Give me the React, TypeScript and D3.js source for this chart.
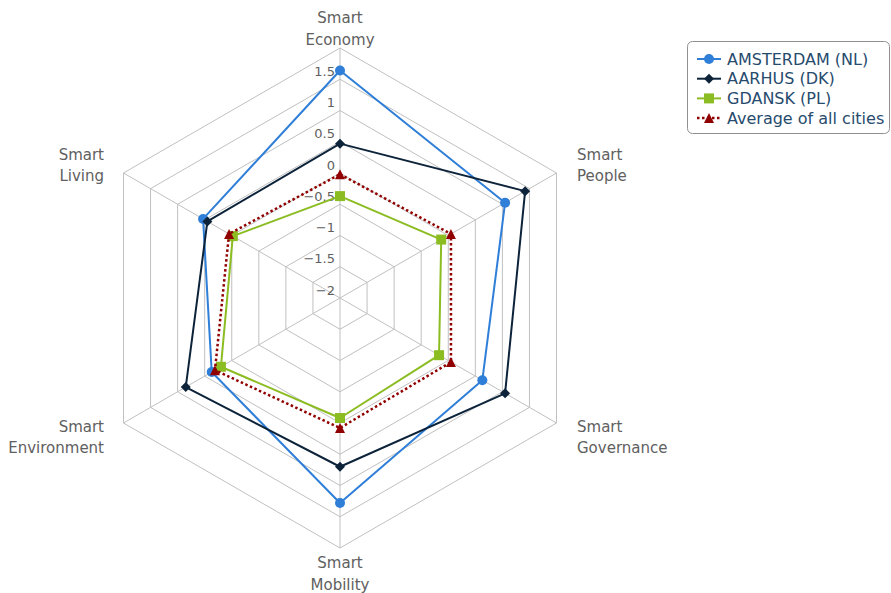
import React from "react";
import * as d3 from "d3";

const categories = ["Economy", "People", "Governance", "Mobility", "Environment", "Living"];
const seriesNames = ["AMSTERDAM (NL)", "AARHUS (DK)", "GDANSK (PL)", "Average of all cities"];
const amsterdam = [1.64, 1.05, 0.63, 1.28, 0.37, 0.53];
const aarhus = [0.47, 1.42, 1.05, 0.7, 0.85, 0.45];
const gdansk = [-0.37, -0.13, -0.17, -0.08, 0.2, -0.02];
const average = [-0.02, 0.05, 0.05, 0.08, 0.31, 0.05];
const tickValues = [-2, -1.5, -1, -0.5, 0, 0.5, 1, 1.5, 2];
const labelTicks = [-2, -1.5, -1, -0.5, 0, 0.5, 1, 1.5];

const colors = ["#2f7ed8", "#0d233a", "#8bbc21", "#910000"];
const markers = ["circle", "diamond", "square", "triangle"];

const W = 891;
const H = 593;
const cx = 340;
const cy = 298;
const R = 250;
const FONT = "'DejaVu Sans', Verdana, sans-serif";

function markerPath(kind: string): string {
  if (kind === "circle") return d3.symbol(d3.symbolCircle, Math.PI * 25)() as string;
  if (kind === "diamond") return "M0,-5L5,0L0,5L-5,0Z";
  if (kind === "square") return "M-5,-5L5,-5L5,5L-5,5Z";
  return "M0,-5L5,5L-5,5Z";
}

function fmt(v: number): string {
  const s = String(v);
  return s.replace("-", "\u2212");
}

export default function App() {
  const r = d3.scaleLinear().domain([-2, 2]).range([0, R]);
  const angle = (i: number) => (i * Math.PI * 2) / categories.length;
  const ring = d3
    .lineRadial<number>()
    .angle((_, i) => angle(i))
    .radius((d) => r(d))
    .curve(d3.curveLinearClosed);
  const pt = (v: number, i: number): [number, number] => [
    cx + r(v) * Math.sin(angle(i)),
    cy - r(v) * Math.cos(angle(i)),
  ];
  const allSeries = [amsterdam, aarhus, gdansk, average];

  const labelPos = [
    { x: 340, y1: 18, y2: 40, anchor: "middle" },
    { x: 577, y1: 155, y2: 176, anchor: "start" },
    { x: 577, y1: 427, y2: 448, anchor: "start" },
    { x: 340, y1: 563, y2: 585, anchor: "middle" },
    { x: 104, y1: 427, y2: 448, anchor: "end" },
    { x: 104, y1: 155, y2: 176, anchor: "end" },
  ];

  return (
    <div style={{ position: "absolute", left: 0, top: 0 }}>
      <svg width={W} height={H} style={{ display: "block", fontFamily: FONT }}>
        <rect width={W} height={H} fill="#fff" />
        {/* grid rings */}
        <g transform={`translate(${cx},${cy})`}>
          {tickValues.slice(1).map((t) => (
            <path key={t} d={ring(categories.map(() => t)) as string} fill="none" stroke="#C0C0C0" strokeWidth={1} />
          ))}
          {categories.map((_, i) => (
            <line
              key={i}
              x1={0}
              y1={0}
              x2={R * Math.sin(angle(i))}
              y2={-R * Math.cos(angle(i))}
              stroke="#C0C0C0"
              strokeWidth={1}
            />
          ))}
        </g>
        {/* y tick labels */}
        {labelTicks.map((t) => (
          <text
            key={t}
            x={335}
            y={cy - r(t) - 8}
            dy="0.35em"
            textAnchor="end"
            fontSize={13}
            fill="#606060"
          >
            {fmt(t)}
          </text>
        ))}
        {/* category labels */}
        {categories.map((c, i) => (
          <g key={c} fontSize={15} fill="#606060" textAnchor={labelPos[i].anchor as any}>
            <text x={labelPos[i].x} y={labelPos[i].y1} dy="0.35em">
              Smart
            </text>
            <text x={labelPos[i].x} y={labelPos[i].y2} dy="0.35em">
              {c}
            </text>
          </g>
        ))}
        {/* series */}
        {allSeries.map((s, si) => (
          <g key={si}>
            <path
              transform={`translate(${cx},${cy})`}
              d={ring(s) as string}
              fill="none"
              stroke={colors[si]}
              strokeWidth={si === 3 ? 2.5 : 2}
              strokeDasharray={si === 3 ? "2.5,2.5" : undefined}
              strokeLinejoin="round"
            />
            {s.map((v, i) => {
              const [x, y] = pt(v, i);
              return <path key={i} transform={`translate(${x},${y})`} d={markerPath(markers[si])} fill={colors[si]} />;
            })}
          </g>
        ))}
        {/* legend */}
        <rect x={687.5} y={41.5} width={202} height={92} rx={5} fill="#fff" stroke="#909090" strokeWidth={1} />
        {seriesNames.map((n, i) => {
          const y = 59 + i * 19.7;
          return (
            <g key={n}>
              <line
                x1={697}
                x2={721}
                y1={y}
                y2={y}
                stroke={colors[i]}
                strokeWidth={i === 3 ? 2.5 : 2}
                strokeDasharray={i === 3 ? "2.5,2.5" : undefined}
              />
              <path transform={`translate(709,${y})`} d={markerPath(markers[i])} fill={colors[i]} />
              <text x={727} y={y} dy="0.35em" fontSize={16} fill="#274b6d">
                {n}
              </text>
            </g>
          );
        })}
      </svg>
    </div>
  );
}
